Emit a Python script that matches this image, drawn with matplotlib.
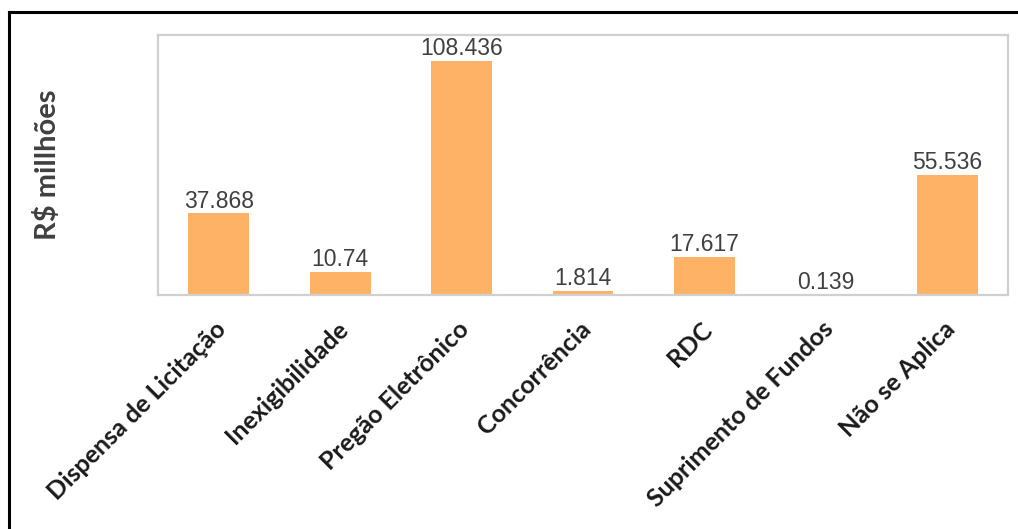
import matplotlib
matplotlib.use("Agg")
import matplotlib.pyplot as plt
import matplotlib.transforms as mtransforms
from matplotlib.lines import Line2D

categories = ["Dispensa de Licitação", "Inexigibilidade", "Pregão Eletrônico",
              "Concorrência", "RDC", "Suprimento de Fundos", "Não se Aplica"]
values = [37.868, 10.74, 108.436, 1.814, 17.617, 0.139, 55.536]
value_labels = ["37.868", "10.74", "108.436", "1.814", "17.617", "0.139", "55.536"]

W, H = 1018, 529
fig = plt.figure(figsize=(W / 100, H / 100), dpi=100)
fig.patch.set_facecolor("white")

# outer frame (top and left visible)
fig.add_artist(Line2D([8.5 / W, 8.5 / W], [0, 1 - 12 / H], color="black", lw=2.2,
                      transform=fig.transFigure))
fig.add_artist(Line2D([8.5 / W, 1], [1 - 12 / H, 1 - 12 / H], color="black", lw=2.2,
                      transform=fig.transFigure))

left, right, top, bottom = 158, 1008, 35, 295
ax = fig.add_axes([left / W, 1 - bottom / H, (right - left) / W, (bottom - top) / H])
x = list(range(len(categories)))
bars = ax.bar(x, values, width=0.5, color="#FDB266", zorder=2)
ax.set_xlim(-0.5, len(categories) - 0.5)
ax.set_ylim(0, 120.5)

for xi, v, lab in zip(x, values, value_labels):
    ax.annotate(lab, (xi, v), xytext=(0, 0.5), textcoords="offset points",
                ha="center", va="bottom", fontsize=16.5, color="#404040",
                family="Liberation Sans")

for s in ax.spines.values():
    s.set_color("#D0D0D0")
    s.set_linewidth(1.6)

ax.set_yticks([])
ax.set_xticks(x)
ax.set_xticklabels(categories, rotation=45, ha="right", va="center",
                   rotation_mode="anchor", fontsize=18, fontweight="bold",
                   family="Lato", color="#1a1a1a")
ax.tick_params(axis="x", length=0, pad=22)
offset = mtransforms.ScaledTranslation(4 / 100, 0, fig.dpi_scale_trans)
for lbl in ax.get_xticklabels():
    lbl.set_transform(lbl.get_transform() + offset)

fig.text(48 / W, 1 - 165 / H, "R$ millhões", rotation=90, ha="center", va="center",
         fontsize=21, fontweight="bold", family="Lato", color="#404040")

fig.savefig("out.png", dpi=100, facecolor="white")
